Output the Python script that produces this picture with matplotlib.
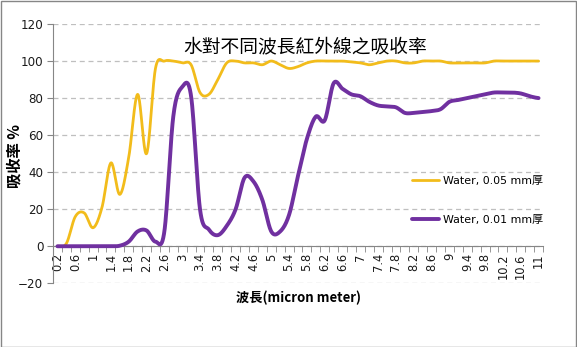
import numpy as np
import matplotlib
matplotlib.use("Agg")
import matplotlib.pyplot as plt
from matplotlib.patches import Rectangle

plt.rcParams['font.family'] = ['DejaVu Sans', 'Noto Sans CJK TC']

# Wavelength categories (micron), 0.2 .. 11 in steps of 0.2
wavelengths = ["0.2", "0.4", "0.6", "0.8", "1", "1.2", "1.4", "1.6", "1.8", "2",
               "2.2", "2.4", "2.6", "2.8", "3", "3.2", "3.4", "3.6", "3.8", "4",
               "4.2", "4.4", "4.6", "4.8", "5", "5.2", "5.4", "5.6", "5.8", "6",
               "6.2", "6.4", "6.6", "6.8", "7", "7.2", "7.4", "7.6", "7.8", "8",
               "8.2", "8.4", "8.6", "8.8", "9", "9.2", "9.4", "9.6", "9.8", "10",
               "10.2", "10.4", "10.6", "10.8", "11"]

# Absorption (%) for a 0.05 mm water layer
water_005 = [0, 1.5, 16, 18, 10, 21, 45, 28, 48, 82,
             50, 96, 100, 100, 99, 98, 83, 82, 90, 99,
             100, 99, 99, 98, 100, 98, 96, 97, 99, 100,
             100, 100, 100, 99.5, 99, 98, 99, 100, 100, 99,
             99, 100, 100, 100, 99, 99, 99, 99, 99, 100,
             100, 100, 100, 100, 100]

# Absorption (%) for a 0.01 mm water layer
water_001 = [0, 0, 0, 0, 0, 0, 0, 0.3, 2.5, 8,
             8.5, 2.5, 8, 70, 86, 81, 20, 9, 6, 11,
             20, 37, 35, 25, 8, 8, 17, 38, 58, 70,
             68, 88, 85, 82, 81, 78, 76, 75.5, 75, 72,
             72, 72.5, 73, 74, 78, 79, 80, 81, 82, 83,
             83, 83, 82.5, 81, 80]

series_labels = ["Water, 0.05 mm厚", "Water, 0.01 mm厚"]
series_colors = ["#F2BC1B", "#7030A0"]


def smooth(y, samples=24):
    """Catmull-Rom spline through the points (x = category index)."""
    y = np.asarray(y, dtype=float)
    n = len(y)
    p = np.concatenate([[y[0]], y, [y[-1]]])
    xs, ys = [], []
    t = np.linspace(0, 1, samples, endpoint=False)
    for i in range(n - 1):
        p0, p1, p2, p3 = p[i], p[i + 1], p[i + 2], p[i + 3]
        m1 = (p2 - p0) / 2
        m2 = (p3 - p1) / 2
        h00 = 2 * t**3 - 3 * t**2 + 1
        h10 = t**3 - 2 * t**2 + t
        h01 = -2 * t**3 + 3 * t**2
        h11 = t**3 - t**2
        xs.append(i + t)
        ys.append(h00 * p1 + h10 * m1 + h01 * p2 + h11 * m2)
    xs.append([n - 1])
    ys.append([y[-1]])
    return np.concatenate(xs), np.concatenate(ys)


fig = plt.figure(figsize=(5.77, 3.47), dpi=100)
ax = fig.add_axes([53 / 577, 1 - 283.3 / 347, 490 / 577, 259.3 / 347])

x_idx = np.arange(len(wavelengths))

sx, sy = smooth(water_005)
ax.plot(sx, sy, color=series_colors[0], lw=2.0, label=series_labels[0],
        solid_capstyle='round', zorder=3)
sx, sy = smooth(water_001)
ax.plot(sx, sy, color=series_colors[1], lw=2.8, label=series_labels[1],
        solid_capstyle='round', zorder=4)

ax.set_xlim(-0.5, len(wavelengths) - 0.5)
ax.set_ylim(-20, 120)
ax.set_yticks(np.arange(-20, 121, 20))
ax.yaxis.grid(True, color="#BFBFBF", ls=(0, (4, 3)), lw=0.9)
ax.set_axisbelow(True)

grey = "#868686"
for s in ["top", "right"]:
    ax.spines[s].set_visible(False)
ax.spines["left"].set_color(grey)
ax.spines["bottom"].set_color(grey)
ax.spines["bottom"].set_position(("data", 0))

ax.set_xticks(x_idx[::2])
ax.set_xticklabels(wavelengths[::2], rotation=90)
ax.set_xticks(np.arange(-0.5, len(wavelengths)), minor=True)
ax.tick_params(axis="x", which="major", length=0, pad=5, labelsize=8.3,
               labelcolor="#1a1a1a")
ax.tick_params(axis="x", which="minor", length=4, color=grey, direction="out")
ax.tick_params(axis="y", length=4, color=grey, labelsize=8.6,
               labelcolor="#1a1a1a", pad=3)

ax.set_ylabel("吸收率 %", fontsize=11, fontweight="bold",
              family=["Noto Sans CJK TC", "DejaVu Sans"], labelpad=4)
ax.yaxis.set_label_coords(-30 / 490, 0.49)
fig.text(298 / 577, 1 - 298 / 347, "波長(micron meter)", ha="center", va="center",
         fontsize=9.5, fontweight="bold", family=["Noto Sans CJK TC", "DejaVu Sans"])

fig.text(305 / 577, 1 - 47 / 347, "水對不同波長紅外線之吸收率", ha="center", va="center",
         fontsize=13.5, family=["Noto Sans CJK TC", "DejaVu Sans"])

leg = ax.legend(loc="upper left", bbox_to_anchor=((412 - 53) / 490, (283.3 - 176) / 259.3),
                frameon=False, borderpad=0, borderaxespad=0,
                handlelength=2.5, handletextpad=0.35, labelspacing=2.6,
                prop={"family": ["DejaVu Sans", "Noto Sans CJK TC"], "size": 7.9})

fig.patches.append(Rectangle((0.5 / 577, 0.5 / 347), 575.5 / 577, 345.5 / 347,
                             transform=fig.transFigure, fill=False,
                             edgecolor=grey, lw=1))

fig.savefig("out.png", dpi=100)
